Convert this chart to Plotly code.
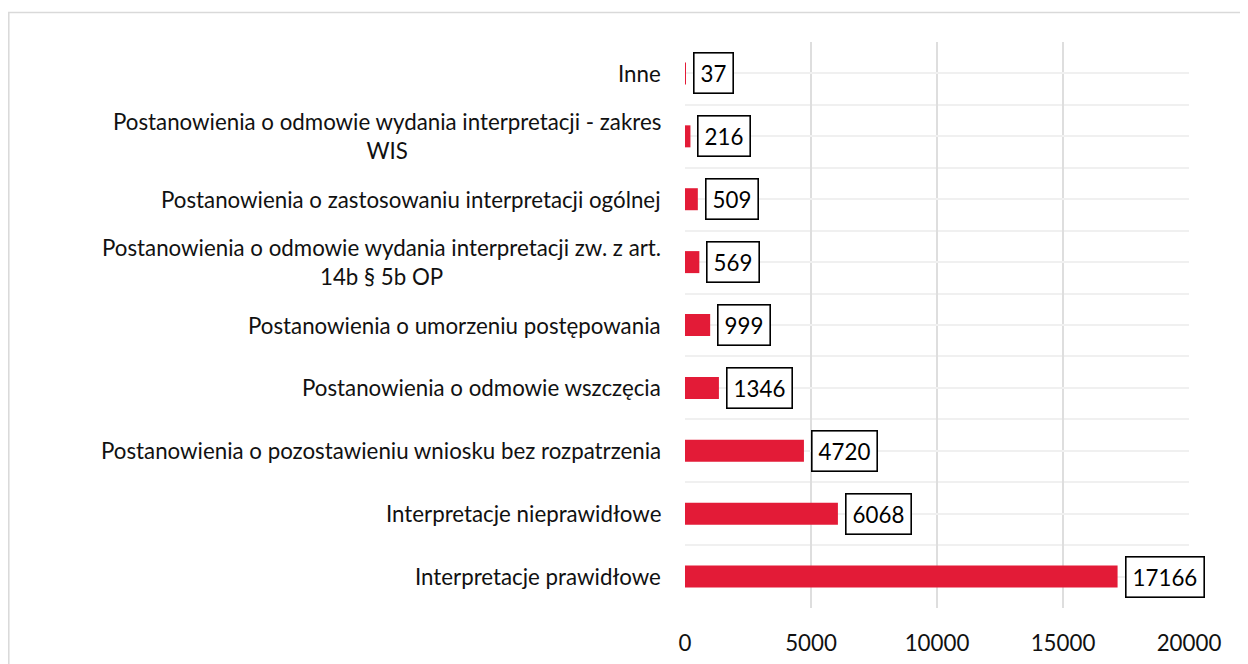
import plotly.graph_objects as go

categories = [
    "Interpretacje prawidłowe",
    "Interpretacje nieprawidłowe",
    "Postanowienia o pozostawieniu wniosku bez rozpatrzenia",
    "Postanowienia o odmowie wszczęcia",
    "Postanowienia o umorzeniu postępowania",
    "Postanowienia o odmowie wydania interpretacji zw. z art.<br>14b § 5b OP",
    "Postanowienia o zastosowaniu interpretacji ogólnej",
    "Postanowienia o odmowie wydania interpretacji - zakres<br>WIS",
    "Inne",
]
values = [17166, 6068, 4720, 1346, 999, 569, 509, 216, 37]
x_ticks = [0, 5000, 10000, 15000, 20000]

FONT = "Lato"
FS = 22.3
BAR = "#E31B37"
# page body has an 8px margin; figure sized so it reaches the 1248x664 window edge
W, H = 1240, 656
OFF = 8
L, R, T, B = 685 - OFF, W - (1189 - OFF), 41.5 - OFF, H - (608.5 - OFF)

positions = list(range(len(categories)))

fig = go.Figure(go.Bar(
    x=values, y=positions, orientation="h",
    marker=dict(color=BAR, line=dict(width=0)),
    width=0.35, hoverinfo="x+y",
))

for p, c in zip(positions, categories):
    fig.add_annotation(x=0, y=p, xref="paper", yref="y", text=c, showarrow=False,
                       xanchor="right", yanchor="middle", align="center", xshift=-22,
                       font=dict(family=FONT, size=FS, color="#111111"))

for p, v in zip(positions, values):
    fig.add_annotation(x=v, y=p, xref="x", yref="y", text=str(v), showarrow=False,
                       xanchor="left", yanchor="middle", xshift=7,
                       bordercolor="#000000", borderwidth=1.6, borderpad=6, bgcolor="white",
                       font=dict(family=FONT, size=FS, color="#000000"))

pw = W - L - R
ph = H - T - B
# outer chart frame (screen x=7,y=12, running off right and bottom)
fx0 = (0.8 - L) / pw
fx1 = (W + 20 - L) / pw
fy1 = 1 + (T - (12 - OFF)) / ph
fy0 = -(B + 20) / ph
fig.add_shape(type="rect", xref="paper", yref="paper",
              x0=fx0, x1=fx1, y0=fy0, y1=fy1,
              line=dict(color="#d9d9d9", width=1.5), fillcolor="rgba(0,0,0,0)", layer="below")

fig.update_layout(
    width=W, height=H,
    margin=dict(l=L, r=R, t=T, b=B, autoexpand=False),
    paper_bgcolor="white", plot_bgcolor="white",
    showlegend=False,
    font=dict(family=FONT, size=FS, color="#111111"),
    xaxis=dict(range=[0, 20000], tickvals=x_ticks, ticktext=[str(t) for t in x_ticks],
               showgrid=True, gridcolor="#dedede", gridwidth=1.5, zeroline=False,
               showline=False, ticks="", ticklabelstandoff=20, automargin=False,
               tickfont=dict(family=FONT, size=FS, color="#111111")),
    yaxis=dict(range=[-0.5, len(categories) - 0.5], tickvals=positions, showticklabels=False,
               showgrid=True, gridcolor="#f0f0f0", gridwidth=1.5, zeroline=False, ticks="",
               automargin=False,
               minor=dict(tickmode="linear", tick0=-0.5, dtick=1, showgrid=True,
                          gridcolor="#f0f0f0", gridwidth=1.5)),
)

fig.write_html("out.html")
